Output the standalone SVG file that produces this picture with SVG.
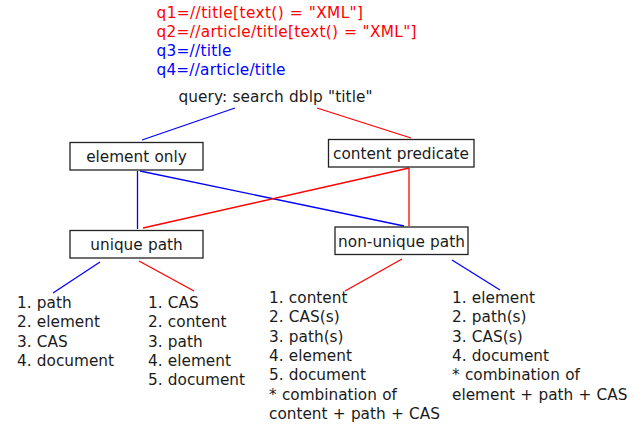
<svg xmlns="http://www.w3.org/2000/svg" width="644" height="425" viewBox="0 0 644 425">
  <style>
    text { font-family: "DejaVu Sans", Verdana, sans-serif; font-size: 15.3px; fill: #1a1a1a; word-spacing: 0.4px; }
    .red { fill: #ff0000; }
    .blue { fill: #0000ff; }
    .box { fill: #fff; stroke: #222; stroke-width: 1.3; }
    .lr { stroke: #ff0000; stroke-width: 1.3; fill: none; }
    .lb { stroke: #0000ff; stroke-width: 1.3; fill: none; }
    .mid { text-anchor: middle; }
  </style>
  <defs>
    <!-- drawing area ends at the right margin -->
    <clipPath id="page">
      <rect x="0" y="0" width="627.5" height="425"/>
    </clipPath>
  </defs>
  <rect width="644" height="425" fill="#fff"/>

  <!-- query definitions -->
  <g id="queries">
    <text class="red" x="156.5" y="17.5" textLength="206.5" lengthAdjust="spacing">q1=//title[text() = "XML"]</text>
    <text class="red" x="156.5" y="36.5" textLength="260" lengthAdjust="spacing">q2=//article/title[text() = "XML"]</text>
    <text class="blue" x="156.5" y="55.5" textLength="75" lengthAdjust="spacing">q3=//title</text>
    <text class="blue" x="156.5" y="74.5" textLength="129" lengthAdjust="spacing">q4=//article/title</text>
  </g>

  <g id="connectors">
    <line class="lb" x1="235" y1="108" x2="142" y2="140"/>
    <line class="lr" x1="317" y1="108" x2="411" y2="138"/>
    <line class="lb" x1="137.5" y1="171" x2="137.5" y2="229"/>
    <line class="lb" x1="140" y1="171" x2="404" y2="226"/>
    <line class="lr" x1="409" y1="168" x2="143" y2="228"/>
    <line class="lr" x1="409" y1="168" x2="409" y2="226"/>
    <line class="lb" x1="100" y1="262" x2="53" y2="293"/>
    <line class="lr" x1="139" y1="261" x2="194" y2="291"/>
    <line class="lr" x1="402" y1="259" x2="345" y2="291"/>
    <line class="lb" x1="452" y1="260" x2="500" y2="290"/>
  </g>

  <g id="root">
    <text x="178.5" y="101.5" textLength="194" lengthAdjust="spacing">query: search dblp "title"</text>
  </g>

  <g id="element-only">
    <rect class="box" x="70" y="142.5" width="133" height="27.5"/>
    <text class="mid" x="136.5" y="162">element only</text>
  </g>

  <g id="content-predicate">
    <rect class="box" x="328.5" y="139.5" width="145.5" height="27.5"/>
    <text class="mid" x="401" y="159">content predicate</text>
  </g>

  <g id="unique-path">
    <rect class="box" x="70" y="230.5" width="133" height="27.5"/>
    <text class="mid" x="136.5" y="250">unique path</text>
  </g>

  <g id="non-unique-path">
    <rect class="box" x="335" y="227" width="133" height="27.5"/>
    <text class="mid" x="401.5" y="246.5">non-unique path</text>
  </g>

  <g id="list-unique-element">
    <text x="17" y="308">1. path</text>
    <text x="17" y="327.3">2. element</text>
    <text x="17" y="346.6">3. CAS</text>
    <text x="17" y="365.9">4. document</text>
  </g>

  <g id="list-unique-content">
    <text x="148" y="308">1. CAS</text>
    <text x="148" y="327.3">2. content</text>
    <text x="148" y="346.6">3. path</text>
    <text x="148" y="365.9">4. element</text>
    <text x="148" y="385.2">5. document</text>
  </g>

  <g id="list-nonunique-content">
    <text x="269" y="303">1. content</text>
    <text x="269" y="322.3">2. CAS(s)</text>
    <text x="269" y="341.6">3. path(s)</text>
    <text x="269" y="360.9">4. element</text>
    <text x="269" y="380.2">5. document</text>
    <text x="269" y="399.5">* combination of</text>
    <text x="269" y="418.8">content + path + CAS</text>
  </g>

  <g id="list-nonunique-element" clip-path="url(#page)">
    <text x="452" y="303">1. element</text>
    <text x="452" y="322.3">2. path(s)</text>
    <text x="452" y="341.6">3. CAS(s)</text>
    <text x="452" y="360.9">4. document</text>
    <text x="452" y="380.2">* combination of</text>
    <text x="452" y="399.5">element + path + CAS</text>
  </g>
</svg>
